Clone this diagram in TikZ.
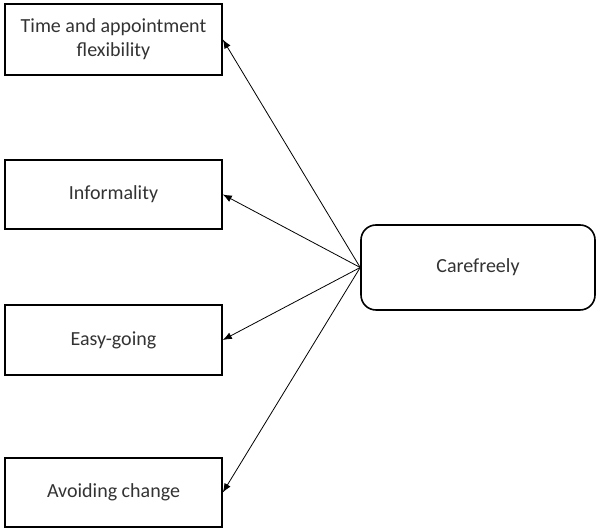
\documentclass[tikz,border=0pt]{standalone}
\usepackage{fontspec}
\setmainfont{Carlito}
\usetikzlibrary{arrows.meta}

\begin{document}
\begin{tikzpicture}[x=1pt,y=1pt,
		font=\fontsize{20}{24}\selectfont,
		factor/.style={draw,line width=1.6pt,minimum width=217pt,inner sep=0pt,align=center,text=black!80},
		main/.style={draw,line width=1.6pt,rounded corners=15pt,minimum width=234pt,minimum height=85pt,inner sep=0pt,text=black!80},
		link/.style={line width=0.8pt,-{Latex[length=9pt,width=7pt]}}]
		\useasboundingbox (0,0) rectangle (597,529);
		\node[factor,minimum height=71pt](time) at (113.5,489.5){Time and appointment\\flexibility};
		\node[factor,minimum height=69pt](inf) at (113.5,334.5){Informality};
		\node[factor,minimum height=70pt](easy) at (113.5,189){Easy-going};
		\node[factor,minimum height=69pt](avoid) at (113.5,36.5){Avoiding change};
		\node[main](care) at (478,261.5){Carefreely};
		\draw[link] (care.west) -- (time.east);
		\draw[link] (care.west) -- (inf.east);
		\draw[link] (care.west) -- (easy.east);
		\draw[link] (care.west) -- (avoid.east);
	\end{tikzpicture}
\end{document}
